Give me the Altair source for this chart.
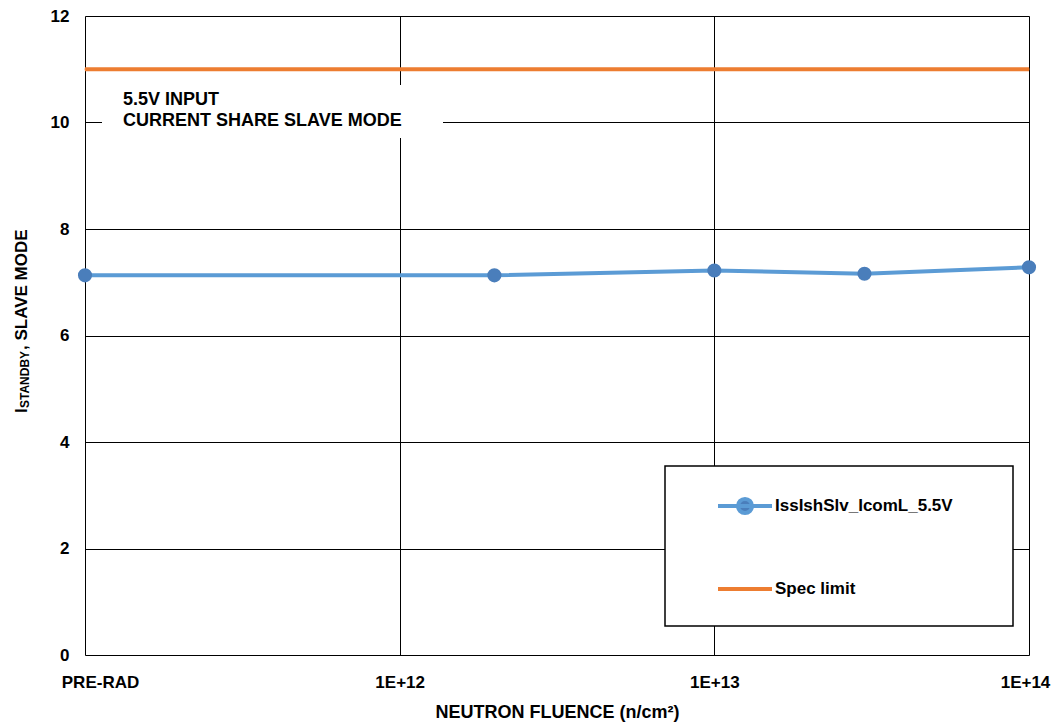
import altair as alt
import pandas as pd

# ---- data ----
series_name = "IssIshSlv_IcomL_5.5V"
spec_name = "Spec limit"
fluence = [1e11, 2e12, 1e13, 3e13, 1e14]   # 1e11 stands for PRE-RAD
istandby = [7.13, 7.13, 7.22, 7.16, 7.28]
spec_x = [1e11, 1e14]
spec_y = [11.0, 11.0]
x_ticks = [1e11, 1e12, 1e13, 1e14]
x_tick_labels = ["PRE-RAD", "1E+12", "1E+13", "1E+14"]
y_ticks = [0, 2, 4, 6, 8, 10, 12]
note_lines = ["5.5V INPUT", "CURRENT SHARE SLAVE MODE"]

FONT = "Liberation Sans"
BLUE = "#5B9BD5"
BLUE_DARK = "#4A7EBB"
ORANGE = "#ED7D31"
FS = 17

meas = pd.DataFrame({"x": fluence, "y": istandby, "series": series_name})
spec = pd.DataFrame({"x": spec_x, "y": spec_y, "series": spec_name})
lines = pd.concat([meas, spec], ignore_index=True)

label_expr = "[" + ",".join("'%s'" % s for s in x_tick_labels) + "][round(log(datum.value)/LN10) - 11]"

xscale = alt.Scale(type="log", domain=[x_ticks[0], x_ticks[-1]], nice=False)
yscale = alt.Scale(domain=[y_ticks[0], y_ticks[-1]], nice=False)

xaxis = alt.Axis(values=x_ticks, labelExpr=label_expr, grid=True, gridColor="black",
                 gridOpacity=1, gridWidth=1, ticks=False, domain=False,
                 labelFont=FONT, labelFontSize=FS, labelFontWeight="bold", labelColor="black",
                 labelPadding=19, labelFlush=False,
                 labelOffset={"condition": [{"test": "datum.value < 2e11", "value": 15},
                                            {"test": "datum.value > 5e13", "value": -4}], "value": 0},
                 title="NEUTRON FLUENCE (n/cm²)", titleFont=FONT, titleFontSize=18,
                 titleFontWeight="bold", titleColor="black", titlePadding=13)
yaxis = alt.Axis(values=y_ticks, grid=True, gridColor="black", gridOpacity=1, gridWidth=1,
                 ticks=False, domain=False, labelFont=FONT, labelFontSize=FS,
                 labelFontWeight="bold", labelColor="black", labelPadding=16, title=None)

blue_path = "M-1,0L1,0M-0.26,0A0.26,0.26,0,1,1,0.26,0A0.26,0.26,0,1,1,-0.26,0Z"
dom = [series_name, spec_name]

legend = alt.Legend(
    title=None, orient="none", legendX=631, legendY=461, padding=0,
    symbolSize=2916, symbolStrokeWidth=4, symbolOpacity=1, rowPadding=38, labelOffset=1,
    labelFont=FONT, labelFontSize=FS, labelFontWeight="bold", labelColor="black",
    labelLimit=400,
)

frame_data = alt.Data(values=[{"k": 0}])

legend_frame = alt.Chart(frame_data).mark_rect(fill="white", stroke="black", strokeWidth=1.5).encode(
    x=alt.value(580), x2=alt.value(928), y=alt.value(450), y2=alt.value(610))

note_box = alt.Chart(frame_data).mark_rect(fill="white").encode(
    x=alt.value(17), x2=alt.value(358), y=alt.value(69), y2=alt.value(122))

note_style = dict(font=FONT, fontSize=18, fontWeight="bold", align="left", baseline="middle", color="black")
note1 = alt.Chart(frame_data).mark_text(**note_style).encode(
    x=alt.value(38), y=alt.value(84), text=alt.value(note_lines[0]))
note2 = alt.Chart(frame_data).mark_text(**note_style).encode(
    x=alt.value(38), y=alt.value(105), text=alt.value(note_lines[1]))

# layer that only carries the legend (line-with-marker and plain line symbols);
# drawn first and tiny, so the real marks cover it
legend_layer = alt.Chart(lines).mark_point(filled=True, size=1).encode(
    x=alt.X("x:Q", scale=xscale, axis=xaxis), y=alt.Y("y:Q", scale=yscale, axis=yaxis),
    fill=alt.Fill("series:N", scale=alt.Scale(domain=dom, range=[BLUE_DARK, ORANGE]), legend=legend),
    stroke=alt.Stroke("series:N", scale=alt.Scale(domain=dom, range=[BLUE, ORANGE]), legend=legend),
    shape=alt.Shape("series:N", scale=alt.Scale(domain=dom, range=[blue_path, "stroke"]), legend=legend),
)

line_layer = alt.Chart(lines).mark_line(strokeWidth=4).encode(
    x=alt.X("x:Q", scale=xscale),
    y=alt.Y("y:Q", scale=yscale),
    color=alt.Color("series:N", scale=alt.Scale(domain=dom, range=[BLUE, ORANGE]), legend=None),
    detail="series:N",
)
point_layer = alt.Chart(meas).mark_point(filled=True, size=200, opacity=1, color=BLUE_DARK).encode(
    x=alt.X("x:Q", scale=xscale), y=alt.Y("y:Q", scale=yscale))

# y title with subscript, as rotated text pieces
t_main = dict(font=FONT, fontWeight="bold", color="black", angle=270, align="left", baseline="alphabetic")
yt1 = alt.Chart(frame_data).mark_text(fontSize=17, **t_main).encode(
    x=alt.value(-58), y=alt.value(397), text=alt.value("I"))
yt2 = alt.Chart(frame_data).mark_text(fontSize=12, **t_main).encode(
    x=alt.value(-56), y=alt.value(392), text=alt.value("STANDBY"))
yt3 = alt.Chart(frame_data).mark_text(fontSize=17, **t_main).encode(
    x=alt.value(-58), y=alt.value(334), text=alt.value(", SLAVE MODE"))

chart = alt.layer(legend_layer, legend_frame, note_box, line_layer, point_layer,
                  note1, note2, yt1, yt2, yt3).properties(
    width=944, height=639,
    autosize=alt.AutoSizeParams(type="none"),
    padding={"left": 77, "top": 8, "right": 22, "bottom": 68},
).configure_view(stroke="black", strokeWidth=1.5).configure(background="white")

chart.save("out.html", embed_options={"renderer": "svg", "actions": False})
